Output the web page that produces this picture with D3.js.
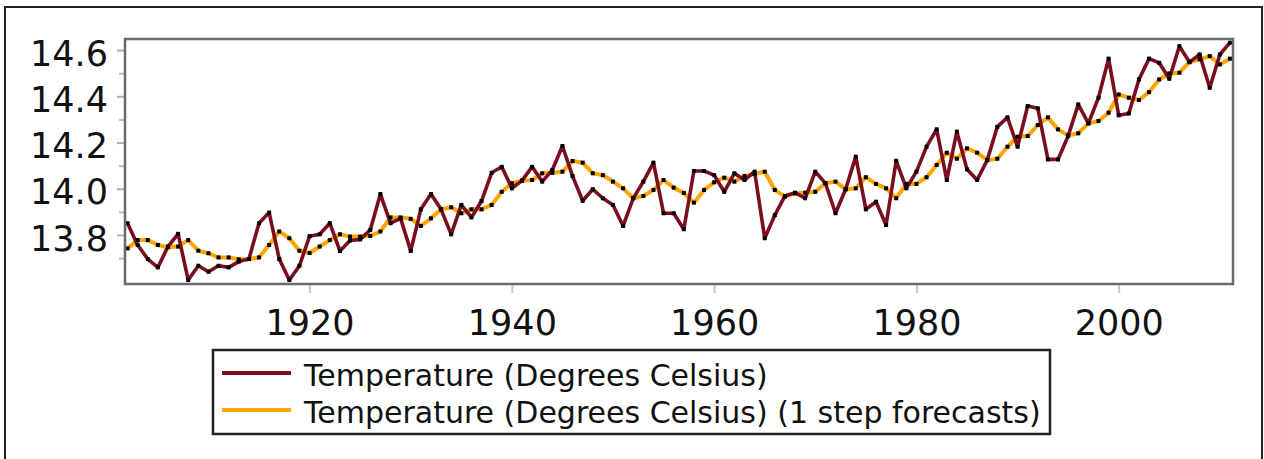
<!DOCTYPE html>
<html>
<head>
<meta charset="utf-8">
<script src="https://cdn.jsdelivr.net/npm/d3@7/dist/d3.min.js"></script>
<style>
  html, body { margin: 0; padding: 0; background: #fff; }
  svg { display: block; }
  text { font-family: "DejaVu Sans", sans-serif; fill: #111; }
</style>
</head>
<body>
<svg id="chart" width="1264" height="459"></svg>
<script>
// ---- data ----
const firstYear = 1902;
const temperature = [
  13.851, 13.757, 13.696, 13.660, 13.750, 13.805, 13.605, 13.667, 13.641, 13.667,
  13.660, 13.685, 13.696, 13.851, 13.897, 13.696, 13.605, 13.667, 13.795, 13.803,
  13.851, 13.731, 13.776, 13.781, 13.822, 13.977, 13.851, 13.872, 13.731, 13.911,
  13.977, 13.911, 13.803, 13.930, 13.876, 13.947, 14.069, 14.095, 14.002, 14.035,
  14.095, 14.031, 14.081, 14.185, 14.055, 13.948, 13.998, 13.959, 13.930, 13.839,
  13.959, 14.031, 14.113, 13.894, 13.894, 13.825, 14.077, 14.077, 14.059, 13.987,
  14.067, 14.038, 14.074, 13.786, 13.886, 13.969, 13.983, 13.959, 14.074, 14.024,
  13.894, 13.998, 14.139, 13.911, 13.944, 13.843, 14.121, 14.002, 14.074, 14.182,
  14.257, 14.038, 14.247, 14.084, 14.038, 14.124, 14.268, 14.309, 14.182, 14.358,
  14.348, 14.127, 14.127, 14.228, 14.365, 14.283, 14.394, 14.563, 14.318, 14.326,
  14.473, 14.563, 14.545, 14.476, 14.617, 14.548, 14.581, 14.437, 14.581, 14.632
];
const forecasts = [
  13.742, 13.778, 13.778, 13.757, 13.747, 13.750, 13.778, 13.732, 13.721, 13.703,
  13.703, 13.695, 13.696, 13.703, 13.757, 13.815, 13.786, 13.732, 13.722, 13.750,
  13.778, 13.803, 13.793, 13.793, 13.796, 13.815, 13.876, 13.876, 13.870, 13.839,
  13.872, 13.911, 13.920, 13.894, 13.911, 13.911, 13.930, 13.987, 14.024, 14.035,
  14.038, 14.067, 14.069, 14.074, 14.120, 14.113, 14.067, 14.059, 14.031, 14.002,
  13.959, 13.969, 13.995, 14.038, 14.005, 13.982, 13.940, 13.995, 14.028, 14.048,
  14.031, 14.055, 14.064, 14.074, 13.995, 13.966, 13.980, 13.983, 13.987, 14.024,
  14.031, 13.998, 14.002, 14.050, 14.021, 14.002, 13.959, 14.021, 14.021, 14.050,
  14.103, 14.156, 14.130, 14.175, 14.156, 14.124, 14.130, 14.182, 14.225, 14.228,
  14.276, 14.309, 14.257, 14.231, 14.240, 14.283, 14.293, 14.329, 14.408, 14.394,
  14.384, 14.418, 14.473, 14.499, 14.502, 14.548, 14.560, 14.574, 14.538, 14.563
];
const years = temperature.map((_, i) => firstYear + i);
const xTicks = [1920, 1940, 1960, 1980, 2000];
const yTicks = [13.8, 14.0, 14.2, 14.4, 14.6];
const yMinorTicks = [13.7, 13.9, 14.1, 14.3, 14.5];
const seriesNames = [
  "Temperature (Degrees Celsius)",
  "Temperature (Degrees Celsius) (1 step forecasts)"
];
const seriesColors = ["#7a0e1f", "#ffa500"];

// ---- layout ----
const svg = d3.select("#chart");
const plot = { left: 125, top: 39, right: 1233, bottom: 284 };

const x = d3.scaleLinear().domain([1901.75, 2011.3]).range([plot.left, plot.right]);
const y = d3.scaleLinear().domain([13.588, 14.648]).range([plot.bottom, plot.top]);

// outer frame
svg.append("rect")
  .attr("x", 5).attr("y", 7).attr("width", 1257).attr("height", 470)
  .attr("fill", "#fff").attr("stroke", "#222").attr("stroke-width", 2);

// plot background
svg.append("rect")
  .attr("x", plot.left).attr("y", plot.top)
  .attr("width", plot.right - plot.left).attr("height", plot.bottom - plot.top)
  .attr("fill", "#fff");

// x axis
const xAxis = svg.append("g")
  .attr("transform", `translate(0,${plot.bottom})`)
  .call(d3.axisBottom(x).tickValues(xTicks).tickFormat(d3.format("d")).tickSize(9).tickSizeOuter(0));
xAxis.select(".domain").remove();
xAxis.selectAll(".tick line").attr("stroke", "#c8c8c8").attr("stroke-width", 2);
xAxis.selectAll(".tick text")
  .attr("y", 51).attr("dy", 0)
  .style("font-size", "35px").style("font-family", "DejaVu Sans").attr("fill", "#111");

// y axis
const yAxis = svg.append("g")
  .attr("transform", `translate(${plot.left},0)`)
  .call(d3.axisLeft(y).tickValues(yTicks).tickFormat(d3.format(".1f")).tickSize(8).tickSizeOuter(0));
yAxis.select(".domain").remove();
yAxis.selectAll(".tick line").attr("stroke", "#b0b0b0").attr("stroke-width", 2);
yAxis.selectAll(".tick text")
  .attr("x", -17).attr("dy", 15)
  .style("font-size", "35px").style("font-family", "DejaVu Sans").attr("fill", "#111");

const yMinor = svg.append("g")
  .attr("transform", `translate(${plot.left},0)`)
  .call(d3.axisLeft(y).tickValues(yMinorTicks).tickFormat("").tickSize(6).tickSizeOuter(0));
yMinor.select(".domain").remove();
yMinor.selectAll(".tick line").attr("stroke", "#c0c0c0").attr("stroke-width", 2);

// lines
const line = d3.line().x((d, i) => x(years[i])).y(d => y(d));
const clipId = "plotclip";
svg.append("clipPath").attr("id", clipId).append("rect")
  .attr("x", plot.left).attr("y", plot.top - 2)
  .attr("width", plot.right - plot.left).attr("height", plot.bottom - plot.top + 2);

const g = svg.append("g").attr("clip-path", `url(#${clipId})`);
g.append("path").datum(forecasts).attr("d", line)
  .attr("fill", "none").attr("stroke", seriesColors[1]).attr("stroke-width", 4)
  .attr("stroke-linejoin", "round");
g.append("path").datum(temperature).attr("d", line)
  .attr("fill", "none").attr("stroke", seriesColors[0]).attr("stroke-width", 3.6)
  .attr("stroke-linejoin", "round");

// point markers (small black squares)
[forecasts, temperature].forEach(series => {
  g.selectAll(null).data(series).enter().append("rect")
    .attr("x", (d, i) => x(years[i]) - 2)
    .attr("y", d => y(d) - 2)
    .attr("width", 4).attr("height", 4)
    .attr("fill", "#000");
});

// plot frame
svg.append("rect")
  .attr("x", plot.left).attr("y", plot.top)
  .attr("width", plot.right - plot.left).attr("height", plot.bottom - plot.top)
  .attr("fill", "none").attr("stroke", "#6a6a6a").attr("stroke-width", 2.5);

// legend
const legend = svg.append("g");
legend.append("rect")
  .attr("x", 213).attr("y", 350).attr("width", 837).attr("height", 84)
  .attr("fill", "#fff").attr("stroke", "#222").attr("stroke-width", 2.5);
const rows = [{ ly: 373, ty: 386 }, { ly: 410, ty: 423 }];
seriesNames.forEach((name, i) => {
  legend.append("line")
    .attr("x1", 222).attr("x2", 291).attr("y1", rows[i].ly).attr("y2", rows[i].ly)
    .attr("stroke", seriesColors[i]).attr("stroke-width", 4);
  legend.append("text")
    .attr("x", 304).attr("y", rows[i].ty)
    .style("font-size", "30px")
    .text(name);
});
</script>
</body>
</html>
